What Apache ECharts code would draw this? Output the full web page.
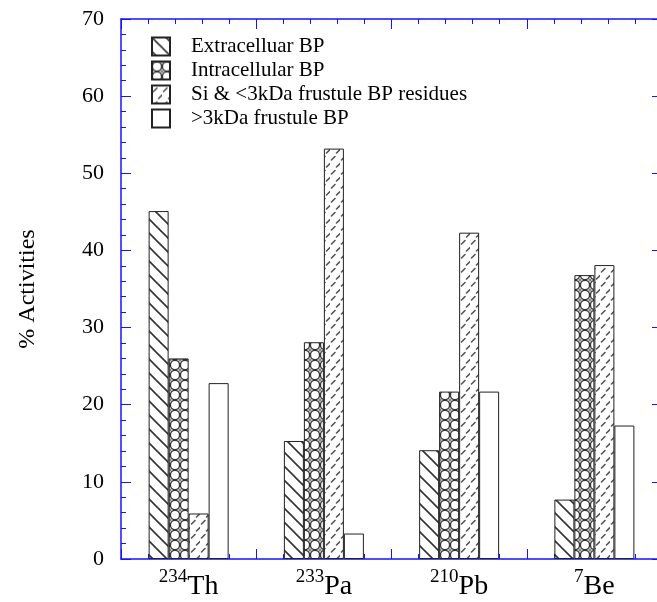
<!DOCTYPE html>
<html>
<head>
<meta charset="utf-8">
<script src="https://cdn.jsdelivr.net/npm/echarts@6/dist/echarts.min.js"></script>
<style>
  html, body { margin: 0; padding: 0; background: #fff; }
  #chart { width: 657px; height: 602px; }
</style>
</head>
<body>
<div id="chart"></div>
<script>
// Nuclide categories (mass number shown as superscript)
const massNumbers = ['234', '233', '210', '7'];
const elements = ['Th', 'Pa', 'Pb', 'Be'];

// % activity in each fraction
const extracellular = [45.1, 15.3, 14.1, 7.7];
const intracellular = [26.0, 28.1, 21.7, 36.8];
const siResidues = [5.9, 53.2, 42.3, 38.1];
const frustule3k = [22.8, 3.3, 21.7, 17.3];

const seriesNames = [
  'Extracelluar BP',
  'Intracellular BP',
  'Si & <3kDa frustule BP residues',
  '>3kDa frustule BP'
];

const yTicks = [0, 10, 20, 30, 40, 50, 60, 70];

// ---- fill patterns ----
function makeCanvas(w, h) {
  const c = document.createElement('canvas');
  c.width = w; c.height = h;
  const g = c.getContext('2d');
  g.fillStyle = '#fff';
  g.fillRect(0, 0, w, h);
  return [c, g];
}

function hatchPattern() {
  const s = 14;
  const [c, g] = makeCanvas(s, s);
  g.strokeStyle = '#333';
  g.lineWidth = 1.6;
  g.beginPath();
  g.moveTo(-2, -2); g.lineTo(s + 2, s + 2);
  g.moveTo(-2, s - 2); g.lineTo(2, s + 2);
  g.moveTo(s - 2, -2); g.lineTo(s + 2, 2);
  g.stroke();
  return c;
}

function circlePattern() {
  const s = 10;
  const [c, g] = makeCanvas(s, s);
  g.strokeStyle = '#333';
  g.lineWidth = 1.4;
  g.beginPath();
  g.arc(5, 5, 4.6, 0, Math.PI * 2);
  g.stroke();
  g.fillStyle = '#888';
  [[0, 0], [s, 0], [0, s], [s, s]].forEach(([x, y]) => {
    g.beginPath();
    g.moveTo(x, y - 2); g.lineTo(x + 2, y); g.lineTo(x, y + 2); g.lineTo(x - 2, y);
    g.closePath();
    g.fill();
  });
  return c;
}

function dashPattern() {
  const w = 10, h = 14;
  const [c, g] = makeCanvas(w, h);
  g.strokeStyle = '#555';
  g.lineWidth = 1.6;
  g.lineCap = 'round';
  g.beginPath();
  g.moveTo(1.5, 6); g.lineTo(5, 2.5);
  g.moveTo(6.5, 13); g.lineTo(10, 9.5);
  g.stroke();
  return c;
}

const fills = [
  { image: hatchPattern(), repeat: 'repeat' },
  { image: circlePattern(), repeat: 'repeat' },
  { image: dashPattern(), repeat: 'repeat' },
  '#ffffff'
];
const values = [extracellular, intracellular, siResidues, frustule3k];

const serif = "'Liberation Serif', serif";
const axisBlue = '#1414ff';

// blue frame axes with inward major/minor ticks
function frameAxis(extra) {
  return Object.assign({
    axisLine: { show: true, onZero: false, lineStyle: { color: axisBlue, width: 1.5 } },
    axisTick: { show: true, inside: true, length: 10, lineStyle: { color: axisBlue, width: 1 } },
    minorTick: { show: true, splitNumber: 5, length: 5, lineStyle: { color: axisBlue, width: 1 } },
    axisLabel: { show: false },
    splitLine: { show: false }
  }, extra);
}

const chart = echarts.init(document.getElementById('chart'), null, { renderer: 'canvas' });

const option = {
  backgroundColor: '#fff',
  animation: false,
  grid: { left: 121, top: 19, width: 541, height: 540, containLabel: false, outerBoundsMode: 'none' },
  legend: {
    orient: 'vertical',
    left: 151,
    top: 36,
    padding: 0,
    icon: 'rect',
    itemWidth: 18,
    itemHeight: 18,
    itemGap: 3,
    data: seriesNames,
    textStyle: { fontFamily: serif, fontSize: 21, lineHeight: 20, color: '#000', padding: [0, 0, 0, 16] }
  },
  xAxis: [
    {
      type: 'category',
      data: elements.map((e, i) => massNumbers[i] + '|' + e),
      axisLine: { show: false, onZero: false },
      axisTick: { show: false },
      axisLabel: {
        margin: 6,
        formatter: function (v) {
          const p = v.split('|');
          return '{sup|' + p[0] + '}{el|' + p[1] + '}';
        },
        rich: {
          sup: { fontFamily: serif, fontSize: 19, color: '#000', verticalAlign: 'top', lineHeight: 34, padding: [3, 0, 0, 0] },
          el: { fontFamily: serif, fontSize: 28, color: '#000', lineHeight: 34, padding: [10, 0, 0, 0] }
        }
      }
    },
    frameAxis({ type: 'value', position: 'bottom', min: 0, max: 4, interval: 1 }),
    frameAxis({ type: 'value', position: 'top', min: 0, max: 4, interval: 1 })
  ],
  yAxis: [
    frameAxis({
      type: 'value', position: 'left',
      min: yTicks[0], max: yTicks[yTicks.length - 1], interval: 10,
      name: '% Activities',
      nameLocation: 'middle',
      nameGap: 81,
      nameTextStyle: { fontFamily: serif, fontSize: 24, color: '#000' },
      axisLabel: { show: true, margin: 17, fontFamily: serif, fontSize: 22, color: '#000' }
    }),
    frameAxis({ type: 'value', position: 'right', min: 0, max: 70, interval: 10 })
  ],
  series: seriesNames.map((name, i) => ({
    name: name,
    type: 'bar',
    xAxisIndex: 0,
    yAxisIndex: 0,
    data: values[i],
    barWidth: 20,
    barGap: '0%',
    itemStyle: { color: fills[i], borderColor: '#222', borderWidth: 1 },
    emphasis: { disabled: true }
  }))
};

chart.setOption(option);
</script>
</body>
</html>
